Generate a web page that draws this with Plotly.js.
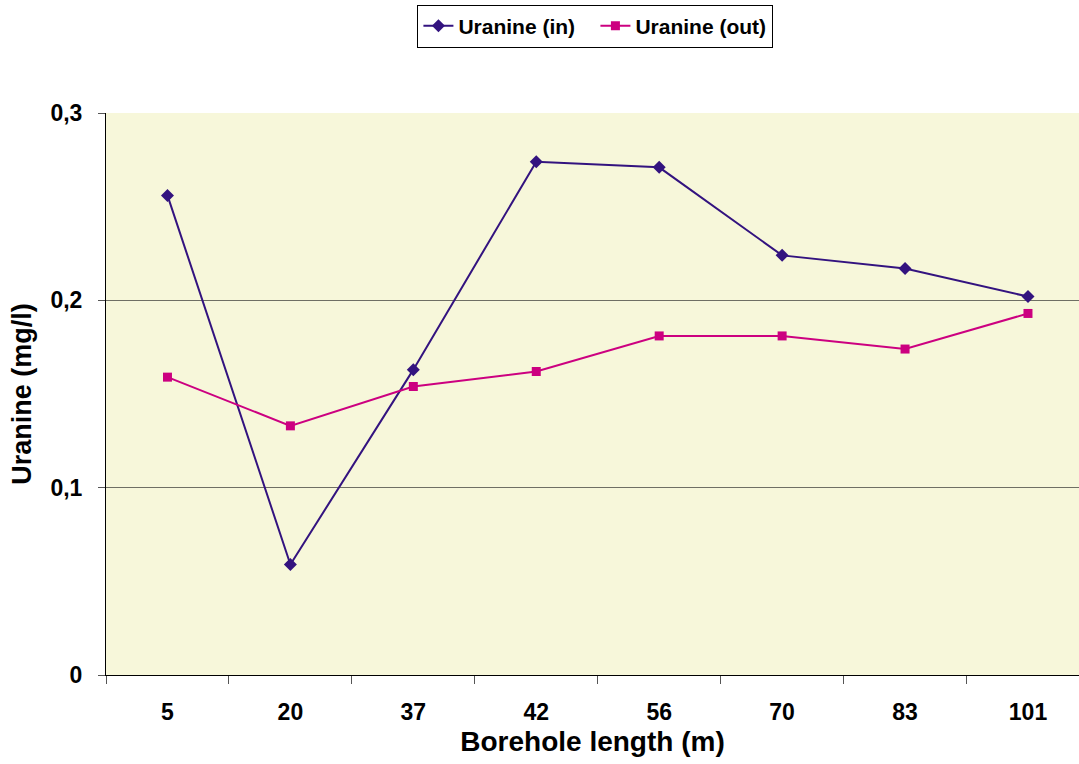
<!DOCTYPE html>
<html>
<head>
<meta charset="utf-8">
<script src="https://cdn.plot.ly/plotly-3.0.1.min.js"></script>
<style>html,body{margin:0;padding:0;background:#fff;}#chart{width:1079px;height:764px;}</style>
</head>
<body>
<div id="chart"></div>
<script>
const categories = ["5", "20", "37", "42", "56", "70", "83", "101"];
const uranineIn = [0.256, 0.059, 0.163, 0.274, 0.271, 0.224, 0.217, 0.202];
const uranineOut = [0.159, 0.133, 0.154, 0.162, 0.181, 0.181, 0.174, 0.193];
const yTicks = [0, 0.1, 0.2, 0.3];

const font = {family: "Liberation Sans, Arial, sans-serif", color: "#000"};

const data = [
  {x: categories, y: uranineIn, name: "Uranine (in)", type: "scatter", mode: "lines+markers",
   line: {color: "#33137F", width: 2}, marker: {symbol: "diamond", size: 10, color: "#33137F"}},
  {x: categories, y: uranineOut, name: "Uranine (out)", type: "scatter", mode: "lines+markers",
   line: {color: "#CC0080", width: 2}, marker: {symbol: "square", size: 9, color: "#CC0080"}}
];

const layout = {
  width: 1079, height: 764,
  margin: {l: 106, r: 0, t: 113, b: 89},
  paper_bgcolor: "#fff", plot_bgcolor: "#F7F7DA",
  separators: ",.",
  showlegend: true,
  legend: {orientation: "h", x: 0.503, xanchor: "center", y: 1.193, yanchor: "top",
    bordercolor: "#000", borderwidth: 1, bgcolor: "#fff", itemwidth: 30, entrywidth: 132,
    font: Object.assign({}, font, {size: 21, weight: "bold"})},
  xaxis: {type: "category", range: [-0.5, 7.415], ticks: "outside", tickson: "boundaries",
    ticklen: 8, tickcolor: "#555", showgrid: false, showline: true, linecolor: "#000", linewidth: 1,
    ticklabelstandoff: 16,
    tickfont: Object.assign({}, font, {size: 23, weight: "bold"}),
    title: {text: "Borehole length (m)", font: Object.assign({}, font, {size: 28, weight: "bold"}), standoff: 7}},
  yaxis: {range: [0, 0.3], tickvals: yTicks, ticks: "outside", ticklen: 7, tickcolor: "#555",
    showgrid: true, gridcolor: "#6f6f64", gridwidth: 1, zeroline: false,
    showline: true, linecolor: "#000", linewidth: 1,
    ticklabelstandoff: 11,
    tickfont: Object.assign({}, font, {size: 23, weight: "bold"}),
    title: {text: "Uranine (mg/l)", font: Object.assign({}, font, {size: 27, weight: "bold"}), standoff: 10}}
};

Plotly.newPlot("chart", data, layout, {displayModeBar: false, staticPlot: true});
</script>
</body>
</html>
